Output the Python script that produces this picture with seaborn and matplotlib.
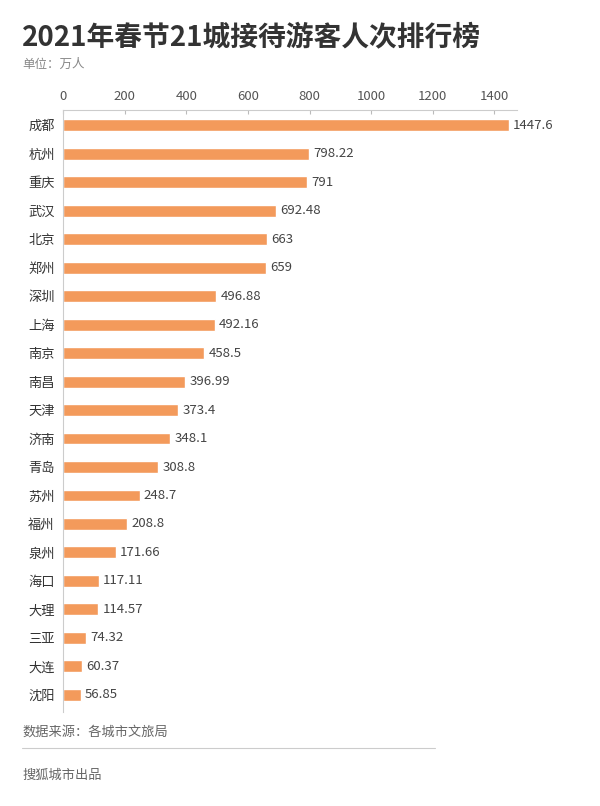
import matplotlib
matplotlib.use('Agg')
import matplotlib.pyplot as plt
import seaborn as sns
import pandas as pd

cities = ['成都', '杭州', '重庆', '武汉', '北京', '郑州', '深圳', '上海', '南京', '南昌',
          '天津', '济南', '青岛', '苏州', '福州', '泉州', '海口', '大理', '三亚', '大连', '沈阳']
visitors = [1447.6, 798.22, 791, 692.48, 663, 659, 496.88, 492.16, 458.5, 396.99,
            373.4, 348.1, 308.8, 248.7, 208.8, 171.66, 117.11, 114.57, 74.32, 60.37, 56.85]
x_ticks = [0, 200, 400, 600, 800, 1000, 1200, 1400]

sns.set_style('white')
plt.rcParams['font.family'] = ['Noto Sans CJK SC', 'DejaVu Sans']

df = pd.DataFrame({'city': cities, 'visitors': visitors})

fig = plt.figure(figsize=(6, 8.06), dpi=100)
ax = fig.add_axes([0.105, 0.1166, 0.757, 0.7469])

sns.barplot(data=df, x='visitors', y='city', orient='h', color='#F39A5B',
            saturation=1, width=0.42, ax=ax)

ax.set_xlim(0, 1474)
ax.set_ylim(20.6, -0.53)
ax.set_xticks(x_ticks)
ax.xaxis.tick_top()
ax.tick_params(axis='x', direction='in', length=3, color='#bbbbbb', labelsize=9.5,
               labelcolor='#555555', pad=5)
ax.tick_params(axis='y', direction='out', length=3, color='#bbbbbb', labelsize=9.5,
               labelcolor='#333333', pad=3)
ax.set_xlabel('')
ax.set_ylabel('')

for side in ['right', 'bottom']:
    ax.spines[side].set_visible(False)
for side in ['top', 'left']:
    ax.spines[side].set_color('#cccccc')
    ax.spines[side].set_linewidth(0.8)

labels = [f'{v:g}' for v in visitors]
ax.bar_label(ax.containers[0], labels=labels, padding=3, fontsize=9.5, color='#444444')

fig.text(0.037, 0.952, '2021年春节21城接待游客人次排行榜', fontsize=20, fontweight='bold',
         color='#333333', va='center', ha='left')
fig.text(0.037, 0.920, '单位：万人', fontsize=9, color='#888888', va='center', ha='left')
fig.text(0.037, 0.092, '数据来源：各城市文旅局', fontsize=9.5, color='#666666', va='center', ha='left')
fig.add_artist(plt.Line2D([0.037, 0.725], [0.072, 0.072], color='#cccccc', linewidth=0.8))
fig.text(0.037, 0.038, '搜狐城市出品', fontsize=9.5, color='#666666', va='center', ha='left')

fig.savefig('out.png', dpi=100)
